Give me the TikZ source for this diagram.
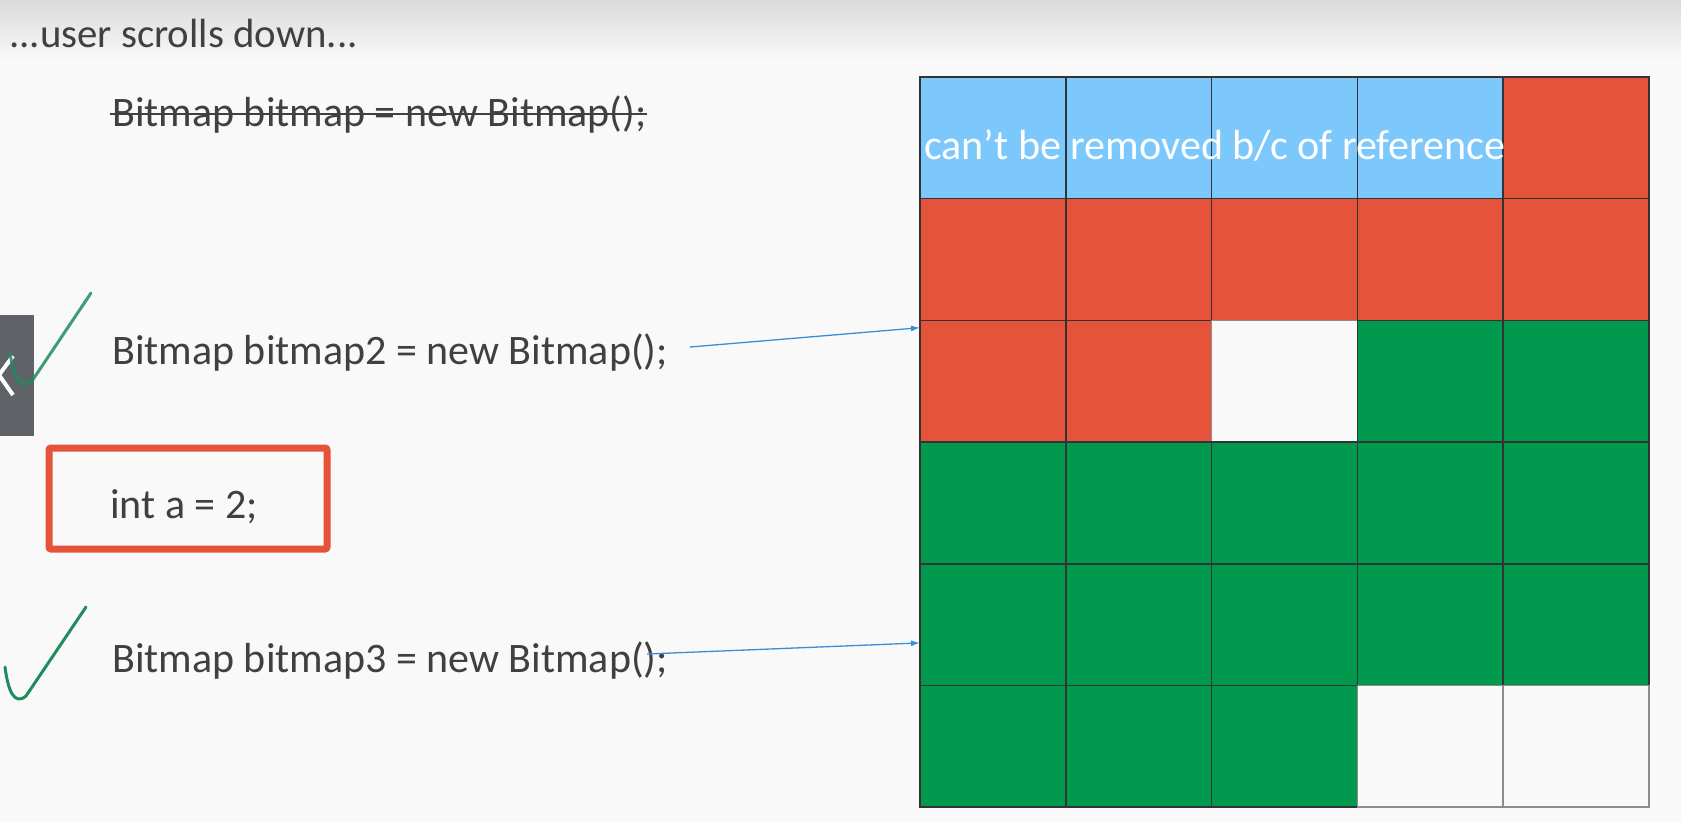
\documentclass[tikz,border=0pt]{standalone}
\usepackage{fontspec}
\setmainfont{Carlito}
\usetikzlibrary{arrows.meta,calc}
\definecolor{pagebg}{HTML}{F9F9F9}
\definecolor{shadetop}{HTML}{DADADA}
\definecolor{inktext}{HTML}{404040}
\definecolor{memred}{HTML}{E5533A}
\definecolor{memblue}{HTML}{7CC8FD}
\definecolor{memgreen}{HTML}{00994D}
\definecolor{pengreen}{HTML}{1E8C5E}
\definecolor{arrowblue}{HTML}{3C8DD6}
\definecolor{tabgray}{HTML}{5F6368}
\tikzset{
  code/.style={anchor=base west, inner sep=0pt, text=inktext, font=\fontsize{42}{50}\selectfont},
  heading/.style={anchor=base west, inner sep=0pt, text=inktext, font=\fontsize{40.8}{48}\selectfont},
  cell/.style={draw=black!80, line width=1.5pt, minimum width=145.8pt, minimum height=121.7pt, inner sep=0pt, outer sep=0pt},
  kindB/.style={cell, fill=memblue},
  kindR/.style={cell, fill=memred},
  kindG/.style={cell, fill=memgreen},
  kindW/.style={cell, draw=black!45, fill=pagebg},
  link/.style={draw=arrowblue, line width=1.3pt, -{Latex[length=9pt,width=6pt]}},
  tick/.style={draw=pengreen, line width=3pt, line cap=round, line join=round},
}
\begin{document}
\begin{tikzpicture}[x=1pt,y=-1pt]
\useasboundingbox (0,0) rectangle (1681,822);
% page background with the soft shadow along the top edge
\fill[pagebg] (0,0) rectangle (1681,822);
\shade[top color=shadetop, bottom color=pagebg] (0,0) rectangle (1681,60);

% memory grid: B = referenced, R = used, G = new, W = free
\foreach \row/\cols in {0/{B,B,B,B,R},1/{R,R,R,R,R},2/{R,R,W,G,G},3/{G,G,G,G,G},4/{G,G,G,G,G},5/{G,G,G,W,W}}{
  \foreach \kind [count=\c from 0] in \cols {
    \pgfmathsetmacro{\cx}{920+145.8*(\c+0.5)}
    \pgfmathsetmacro{\cy}{77+121.7*(\row+0.5)}
    \node[kind\kind] (c-\row-\c) at (\cx,\cy) {};
  }
}
\node[anchor=base west, inner sep=0pt, text=white, font=\fontsize{42.1}{50}\selectfont] (note) at (924,159) {can’t be removed b/c of reference};

% code lines
\node[heading] (head) at (9,47) {...user scrolls down...};
\node[code] (bm1) at (112,126) {Bitmap bitmap = new Bitmap();};
\draw[inktext, line width=2pt] ($(bm1.base west)+(-2,-12)$) -- ($(bm1.base east)+(0,-12)$);
\node[code] (bm2) at (112,364) {Bitmap bitmap2 = new Bitmap();};
\node[code] (inta) at (110,518) {int a = 2;};
\draw[memred, line width=7pt, rounded corners=2pt] (49,448) rectangle (327,549);
\node[code] (bm3) at (112,672) {Bitmap bitmap3 = new Bitmap();};

% references into the grid
\coordinate (src2) at ($(bm2.base east)+(22,-17)$);
\coordinate (dst2) at ($(c-2-0.north west)!0.06!(c-2-0.south west)$);
\draw[link] (src2) -- (dst2);
\coordinate (src3) at ($(bm3.base east)+(-21,-18)$);
\coordinate (dst3) at ($(c-4-0.north west)!0.65!(c-4-0.south west)$);
\draw[link] (src3) -- (dst3);

% side tab with its chevron
\fill[tabgray] (0,315) rectangle (34,436);
\draw[white, line width=4pt] (13,356) -- (-1,375) -- (13,395);

% hand-drawn ticks
\draw[tick, draw opacity=0.85] (10,352) .. controls (13,375) and (20,392) .. (32,381) -- (91,293);
\draw[tick] (5,667) .. controls (8,690) and (14,706) .. (26,696) -- (86,607);
\end{tikzpicture}
\end{document}
